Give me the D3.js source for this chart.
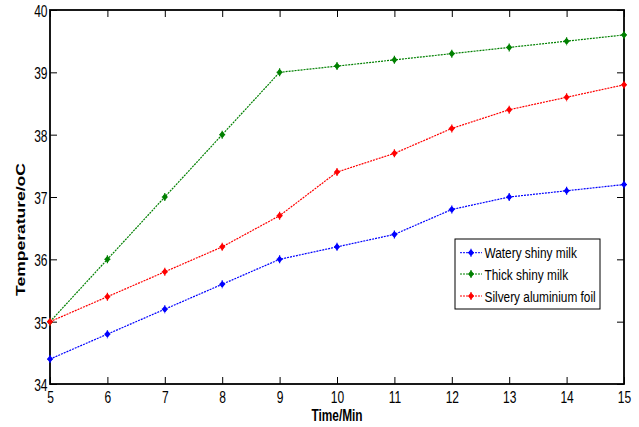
<!DOCTYPE html>
<html><head><meta charset="utf-8">
<script src="https://cdn.jsdelivr.net/npm/d3@7"></script>
<style>body{margin:0;background:#fff}svg{display:block}</style>
</head><body>
<script>
const times = [5,6,7,8,9,10,11,12,13,14,15];
const watery = [34.4,34.8,35.2,35.6,36.0,36.2,36.4,36.8,37.0,37.1,37.2];
const thick = [35,36,37,38,39,39.1,39.2,39.3,39.4,39.5,39.6];
const silvery = [35,35.4,35.8,36.2,36.7,37.4,37.7,38.1,38.4,38.6,38.8];
const seriesNames = ["Watery shiny milk","Thick shiny milk","Silvery aluminium foil"];
const seriesColors = ["#0000ff","#008000","#ff0000"];
const xTicks = [5,6,7,8,9,10,11,12,13,14,15];
const yTicks = [34,35,36,37,38,39,40];

const W=639,H=427;
const m={l:50,t:10,r:15,b:43};
const SX=0.75;
const svg=d3.select("body").append("svg").attr("width",W).attr("height",H);
const x=d3.scaleLinear().domain([5,15]).range([m.l,W-m.r]);
const y=d3.scaleLinear().domain([34,40]).range([H-m.b,m.t]);
const font="Arial,'Liberation Sans',sans-serif";

const ax=(sel)=>{sel.select(".domain").remove();sel.selectAll("line").attr("stroke","#000").attr("stroke-width",1);sel.selectAll("text").attr("font-family",font).attr("font-size",16).attr("fill","#000");};
const bx=svg.append("g").attr("transform",`translate(0,${y(34)})`).call(d3.axisBottom(x).tickValues(xTicks).tickSizeInner(-7).tickSizeOuter(0).tickPadding(7.6).tickFormat(d3.format("d"))).call(ax);
bx.selectAll("text").attr("transform",`scale(${SX},1)`);
svg.append("g").attr("transform",`translate(0,${y(40)})`).call(d3.axisTop(x).tickValues(xTicks).tickSizeInner(-7).tickSizeOuter(0).tickFormat("")).call(ax);
const ly=svg.append("g").attr("transform",`translate(${x(5)},0)`).call(d3.axisLeft(y).tickValues(yTicks).tickSizeInner(-7).tickSizeOuter(0).tickPadding(3).tickFormat(d3.format("d"))).call(ax);
ly.selectAll("text").attr("x",0).attr("dy","0.4em").attr("transform",`translate(-2.5,0) scale(${SX},1)`);
svg.append("g").attr("transform",`translate(${x(15)},0)`).call(d3.axisRight(y).tickValues(yTicks).tickSizeInner(-7).tickSizeOuter(0).tickFormat("")).call(ax);
svg.append("rect").attr("x",x(5)).attr("y",y(40)).attr("width",x(15)-x(5)).attr("height",y(34)-y(40)).attr("fill","none").attr("stroke","#000").attr("stroke-width",1.8);

const data=[watery,thick,silvery];
const line=d3.line().x((d,i)=>x(times[i])).y(d=>y(d));
const mk="M-2.2,0L0,-2.8L2.2,0L0,2.8ZM-3,0H3M0,-4V4";
data.forEach((vals,k)=>{
  svg.append("path").attr("d",line(vals)).attr("fill","none").attr("stroke",seriesColors[k]).attr("stroke-width",1.2).attr("stroke-dasharray","2,1");
  svg.selectAll(null).data(vals).enter().append("path")
    .attr("transform",(d,i)=>`translate(${x(times[i])},${y(d)})`)
    .attr("d",mk)
    .attr("fill",seriesColors[k]).attr("stroke",seriesColors[k]).attr("stroke-width",1.2);
});

// legend
const lg=svg.append("g").attr("transform","translate(455,239)");
lg.append("rect").attr("width",145).attr("height",70).attr("fill","#fff").attr("stroke","#000").attr("stroke-width",1);
const rows=[13.7,35,57];
seriesNames.forEach((n,k)=>{
  const yy=rows[k];
  lg.append("line").attr("x1",5).attr("x2",27).attr("y1",yy).attr("y2",yy).attr("stroke",seriesColors[k]).attr("stroke-dasharray","2,1");
  lg.append("path").attr("transform",`translate(16,${yy})`).attr("d",mk).attr("fill",seriesColors[k]).attr("stroke",seriesColors[k]).attr("stroke-width",1.2);
  lg.append("text").attr("transform",`translate(29.5,${yy+5.5}) scale(0.765,1)`).text(n).attr("font-family",font).attr("font-size",15.5).attr("fill","#000");
});

svg.append("text").attr("transform",`translate(337,421) scale(0.72,1)`).attr("text-anchor","middle").attr("font-family",font).attr("font-weight","bold").attr("font-size",16.5).text("Time/Min");
svg.append("text").attr("transform",`translate(24.5,229.5) scale(${SX},1) rotate(-90)`).attr("text-anchor","middle").attr("font-family",font).attr("font-weight","bold").attr("font-size",17.5).text("Temperature/oC");
</script>
</body></html>
